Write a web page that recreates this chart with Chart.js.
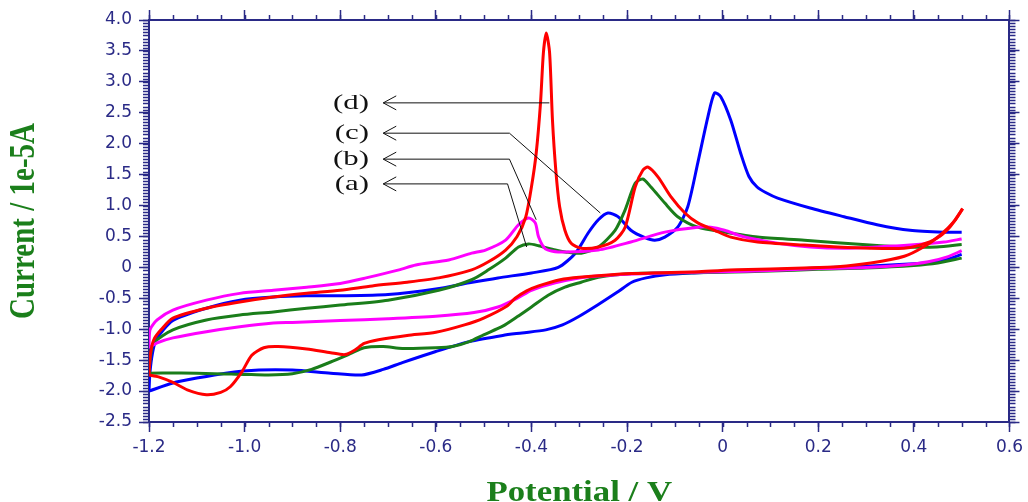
<!DOCTYPE html>
<html lang="en">
<head>
    <meta charset="UTF-8">
    <title>Cyclic Voltammograms</title>
    <script src="https://cdn.jsdelivr.net/npm/chart.js"></script>
    <style>
        body { margin: 0; background: #fff; }
        #wrap { width: 1028px; height: 502px; }
    </style>
</head>
<body>
    <div id="wrap"><canvas id="myChart"></canvas></div>
    <script>
        // potential (V) / current (1e-5 A) pairs; forward sweep (-1.2 -> 0.5) and reverse sweep (0.5 -> -1.2)
        const curveAFwd = [
            [-1.2,-1.71],[-1.197,-1.45],[-1.19,-1.22],[-1.15,-1.01],[-1.08,-0.85],[-1.01,-0.77],[-0.94,-0.72],[-0.87,-0.66],
            [-0.8,-0.61],[-0.7,-0.53],[-0.594,-0.37],[-0.525,-0.2],[-0.49,-0.04],[-0.454,0.15],[-0.427,0.33],[-0.406,0.38],
            [-0.385,0.35],[-0.35,0.28],[-0.329,0.25],[-0.296,0.23],[-0.26,0.33],[-0.225,0.6],[-0.204,0.93],[-0.183,1.36],
            [-0.167,1.43],[-0.15,1.3],[-0.121,1.04],[-0.094,0.82],[-0.052,0.65],[0.004,0.57],[0.073,0.49],[0.171,0.44],
            [0.308,0.36],[0.379,0.33],[0.448,0.33],[0.5,0.37]
        ];
        const curveARev = [
            [0.5,0.15],[0.45,0.07],[0.4,0.03],[0.3,-0.01],[0.2,-0.03],[0.1,-0.06],[0,-0.08],[-0.12,-0.09],[-0.19,-0.1],
            [-0.26,-0.16],[-0.296,-0.24],[-0.33,-0.32],[-0.365,-0.45],[-0.4,-0.64],[-0.43,-0.8],[-0.46,-0.95],[-0.5,-1.09],
            [-0.53,-1.2],[-0.565,-1.28],[-0.6,-1.3],[-0.67,-1.31],[-0.71,-1.28],[-0.75,-1.3],[-0.78,-1.4],[-0.82,-1.53],
            [-0.86,-1.65],[-0.9,-1.72],[-0.95,-1.74],[-1.0,-1.73],[-1.1,-1.71],[-1.2,-1.71]
        ];
        const curveBFwd = [
            [-1.2,-1.3],[-1.198,-1.01],[-1.183,-0.85],[-1.15,-0.69],[-1.08,-0.53],[-1.01,-0.42],[-0.94,-0.37],[-0.87,-0.32],
            [-0.8,-0.26],[-0.746,-0.17],[-0.677,-0.04],[-0.642,0.04],[-0.573,0.12],[-0.525,0.23],[-0.496,0.28],[-0.454,0.44],
            [-0.427,0.69],[-0.406,0.8],[-0.392,0.72],[-0.385,0.49],[-0.371,0.3],[-0.344,0.25],[-0.26,0.28],[-0.192,0.41],
            [-0.121,0.57],[-0.052,0.65],[-0.025,0.65],[0.004,0.6],[0.046,0.49],[0.115,0.39],[0.183,0.33],[0.254,0.31],
            [0.323,0.33],[0.392,0.36],[0.463,0.41],[0.5,0.46]
        ];
        const curveBRev = [
            [0.5,0.27],[0.47,0.17],[0.43,0.09],[0.38,0.04],[0.3,0.0],[0.2,-0.02],[0.1,-0.05],[0,-0.07],[-0.12,-0.09],
            [-0.2,-0.11],[-0.26,-0.14],[-0.3,-0.17],[-0.35,-0.25],[-0.4,-0.37],[-0.43,-0.5],[-0.47,-0.64],[-0.52,-0.73],
            [-0.6,-0.79],[-0.7,-0.83],[-0.8,-0.86],[-0.9,-0.89],[-0.94,-0.9],[-1.01,-0.96],[-1.08,-1.04],[-1.15,-1.14],
            [-1.183,-1.22],[-1.2,-1.3]
        ];
        const curveCFwd = [
            [-1.2,-2.0],[-1.198,-1.7],[-1.193,-1.4],[-1.185,-1.17],[-1.15,-0.86],[-1.08,-0.66],[-1.01,-0.53],[-0.94,-0.48],
            [-0.87,-0.46],[-0.8,-0.46],[-0.7,-0.44],[-0.6,-0.35],[-0.53,-0.25],[-0.47,-0.17],[-0.4,-0.09],[-0.344,0.0],
            [-0.308,0.23],[-0.281,0.56],[-0.26,0.77],[-0.24,0.88],[-0.219,0.82],[-0.192,0.6],[-0.1625,0.48],[-0.142,0.44],
            [-0.121,0.49],[-0.094,0.65],[-0.073,0.98],[-0.052,1.69],[-0.031,2.43],[-0.017,2.82],[-0.004,2.76],[0.017,2.38],
            [0.0375,1.85],[0.055,1.47],[0.072,1.3],[0.09,1.21],[0.115,1.12],[0.183,0.96],[0.254,0.82],[0.323,0.69],
            [0.392,0.6],[0.463,0.57],[0.5,0.57]
        ];
        const curveCRev = [
            [0.5,0.21],[0.47,0.13],[0.43,0.08],[0.4,0.06],[0.3,0.02],[0.2,-0.01],[0.1,-0.04],[0,-0.07],[-0.06,-0.09],
            [-0.12,-0.12],[-0.16,-0.17],[-0.19,-0.24],[-0.22,-0.4],[-0.26,-0.6],[-0.3,-0.79],[-0.335,-0.93],[-0.37,-1.01],
            [-0.42,-1.06],[-0.46,-1.1],[-0.53,-1.2],[-0.6,-1.36],[-0.67,-1.54],[-0.71,-1.65],[-0.755,-1.74],[-0.82,-1.71],
            [-0.9,-1.66],[-0.97,-1.66],[-1.04,-1.71],[-1.1,-1.79],[-1.15,-1.87],[-1.2,-2.0]
        ];
        const curveDFwd = [
            [-1.2,-1.74],[-1.197,-1.4],[-1.19,-1.17],[-1.175,-1.01],[-1.15,-0.82],[-1.08,-0.66],[-1.01,-0.56],[-0.94,-0.48],
            [-0.87,-0.42],[-0.8,-0.37],[-0.733,-0.3],[-0.66,-0.24],[-0.594,-0.17],[-0.525,-0.04],[-0.49,0.09],[-0.454,0.28],
            [-0.43,0.5],[-0.412,0.81],[-0.4,1.3],[-0.39,1.85],[-0.381,2.66],[-0.375,3.47],[-0.369,3.79],[-0.362,3.47],
            [-0.356,2.38],[-0.349,1.57],[-0.341,0.98],[-0.33,0.6],[-0.317,0.39],[-0.296,0.31],[-0.26,0.33],[-0.225,0.44],
            [-0.204,0.65],[-0.183,1.3],[-0.167,1.57],[-0.156,1.62],[-0.135,1.46],[-0.108,1.14],[-0.079,0.88],[-0.052,0.72],
            [-0.017,0.6],[0.017,0.49],[0.073,0.41],[0.171,0.36],[0.24,0.33],[0.308,0.31],[0.379,0.31],[0.413,0.36],
            [0.448,0.47],[0.475,0.65],[0.496,0.88],[0.502,0.95]
        ];
        const curveDRev = [
            [0.502,0.95],[0.485,0.75],[0.455,0.52],[0.42,0.33],[0.38,0.18],[0.31,0.07],[0.24,0.01],[0.17,-0.01],[0.03,-0.04],
            [-0.05,-0.07],[-0.19,-0.1],[-0.3,-0.16],[-0.34,-0.2],[-0.385,-0.3],[-0.41,-0.38],[-0.434,-0.5],[-0.45,-0.62],
            [-0.5,-0.82],[-0.54,-0.93],[-0.6,-1.05],[-0.66,-1.1],[-0.72,-1.17],[-0.75,-1.23],[-0.77,-1.34],[-0.79,-1.41],
            [-0.82,-1.38],[-0.87,-1.32],[-0.93,-1.28],[-0.96,-1.3],[-0.985,-1.42],[-1.005,-1.68],[-1.03,-1.93],[-1.05,-2.02],
            [-1.08,-2.06],[-1.12,-1.98],[-1.15,-1.86],[-1.18,-1.77],[-1.2,-1.74]
        ];

        // callouts: label, row height, bend point, end on the curve (data units)
        const calloutLabels = ['(d)', '(c)', '(b)', '(a)'];
        const calloutRowY = [2.66, 2.17, 1.75, 1.35];
        const calloutBendX = [null, -0.446, -0.446, -0.45];
        const calloutEnd = [[-0.3625, 2.66], [-0.256, 0.88], [-0.39, 0.77], [-0.41, 0.33]];
        const calloutTextX = -0.74;
        const calloutTipX = -0.71;

        const xTitle = 'Potential / V';
        const yTitle = 'Current / 1e-5A';
        const xRange = [-1.2, 0.6];
        const yRange = [-2.5, 4.0];

        const axisColor = '#2a2a86';
        const titleGreen = '#1b7f1b';

        const toPoints = arr => arr.map(p => ({ x: p[0], y: p[1] }));
        const fmt = v => Math.abs(v) < 1e-9 ? '0' : (Math.round(v * 10) / 10).toFixed(1);

        // minor ticks, callouts and stretched axis titles
        const extras = {
            id: 'extras',
            afterDraw(chart) {
                const { ctx, chartArea: a, scales: { x, y } } = chart;
                ctx.save();
                ctx.strokeStyle = axisColor;
                ctx.lineWidth = 1.5;
                ctx.beginPath();
                for (let i = 0; i <= 36; i++) {
                    const px = Math.round(x.getPixelForValue(xRange[0] + i * 0.05)) + 0.5;
                    ctx.moveTo(px, a.bottom); ctx.lineTo(px, a.bottom + 5);
                    ctx.moveTo(px, a.top); ctx.lineTo(px, a.top - 5);
                }
                for (let i = 0; i <= 130; i++) {
                    const py = Math.round(y.getPixelForValue(yRange[0] + i * 0.05)) + 0.5;
                    ctx.moveTo(a.left, py); ctx.lineTo(a.left - 6, py);
                    ctx.moveTo(a.right, py); ctx.lineTo(a.right + 6, py);
                }
                ctx.stroke();

                // callouts
                ctx.strokeStyle = '#111';
                ctx.lineWidth = 1;
                ctx.fillStyle = '#111';
                ctx.font = '22px "Liberation Serif", "Times New Roman", serif';
                ctx.textAlign = 'right';
                ctx.textBaseline = 'middle';
                calloutLabels.forEach((lab, i) => {
                    const ty = y.getPixelForValue(calloutRowY[i]);
                    const tipX = x.getPixelForValue(calloutTipX);
                    ctx.beginPath();
                    ctx.moveTo(tipX, ty);
                    if (calloutBendX[i] !== null) ctx.lineTo(x.getPixelForValue(calloutBendX[i]), ty);
                    ctx.lineTo(x.getPixelForValue(calloutEnd[i][0]), y.getPixelForValue(calloutEnd[i][1]));
                    ctx.moveTo(tipX + 13, ty - 7); ctx.lineTo(tipX, ty); ctx.lineTo(tipX + 13, ty + 7);
                    ctx.stroke();
                    ctx.save();
                    ctx.translate(x.getPixelForValue(calloutTextX), ty);
                    ctx.scale(1.4, 1);
                    ctx.fillText(lab, 0, 0);
                    ctx.restore();
                });

                // axis titles
                ctx.fillStyle = titleGreen;
                ctx.font = 'bold 29px "Liberation Serif", "Times New Roman", serif';
                ctx.textAlign = 'center';
                ctx.textBaseline = 'alphabetic';
                ctx.save();
                ctx.translate((a.left + a.right) / 2, 501);
                ctx.scale(1.2, 1);
                ctx.fillText(xTitle, 0, 0);
                ctx.restore();
                ctx.save();
                ctx.translate(25, (a.top + a.bottom) / 2);
                ctx.scale(1.2, 1);
                ctx.rotate(-Math.PI / 2);
                ctx.textBaseline = 'middle';
                ctx.fillText(yTitle, 0, 0);
                ctx.restore();
                ctx.restore();
            }
        };

        const tickFont = { family: 'DejaVu Sans', size: 17 };
        const gridOpts = { drawOnChartArea: false, tickLength: 10, tickColor: axisColor, tickWidth: 1.5 };
        const borderOpts = { color: axisColor, width: 2 };

        const line = (pts, color) => ({ data: toPoints(pts), borderColor: color });

        const ctx = document.getElementById('myChart').getContext('2d');
        new Chart(ctx, {
            type: 'scatter',
            data: {
                datasets: [
                    line(curveDFwd, '#ff0000'), line(curveDRev, '#ff0000'),
                    line(curveBFwd, '#ff00ff'), line(curveBRev, '#ff00ff'),
                    line(curveAFwd, '#1a7d1a'), line(curveARev, '#1a7d1a'),
                    line(curveCFwd, '#0000ff'), line(curveCRev, '#0000ff')
                ]
            },
            options: {
                responsive: true,
                maintainAspectRatio: false,
                animation: false,
                layout: { padding: 0 },
                datasets: {
                    scatter: { showLine: true, pointRadius: 0, borderWidth: 3, tension: 0.25 }
                },
                plugins: { legend: { display: false }, tooltip: { enabled: false } },
                scales: {
                    x: {
                        type: 'linear', position: 'bottom', min: xRange[0], max: xRange[1],
                        ticks: { stepSize: 0.2, autoSkip: false, maxRotation: 0, color: axisColor, font: tickFont, padding: 5, callback: v => fmt(v) },
                        grid: gridOpts, border: borderOpts,
                        afterFit: s => { s.height = 80; }
                    },
                    x2: {
                        type: 'linear', position: 'top', min: xRange[0], max: xRange[1],
                        ticks: { stepSize: 0.2, autoSkip: false, callback: () => '' },
                        grid: gridOpts, border: borderOpts,
                        afterFit: s => { s.height = 20; }
                    },
                    y: {
                        type: 'linear', position: 'left', min: yRange[0], max: yRange[1],
                        ticks: { stepSize: 0.5, autoSkip: false, color: axisColor, font: tickFont, padding: 7, callback: v => fmt(v) },
                        grid: gridOpts, border: borderOpts,
                        afterFit: s => { s.width = 149; }
                    },
                    y2: {
                        type: 'linear', position: 'right', min: yRange[0], max: yRange[1],
                        ticks: { stepSize: 0.5, autoSkip: false, callback: () => '' },
                        grid: gridOpts, border: borderOpts,
                        afterFit: s => { s.width = 15; }
                    }
                }
            },
            plugins: [extras]
        });
    </script>
</body>
</html>
